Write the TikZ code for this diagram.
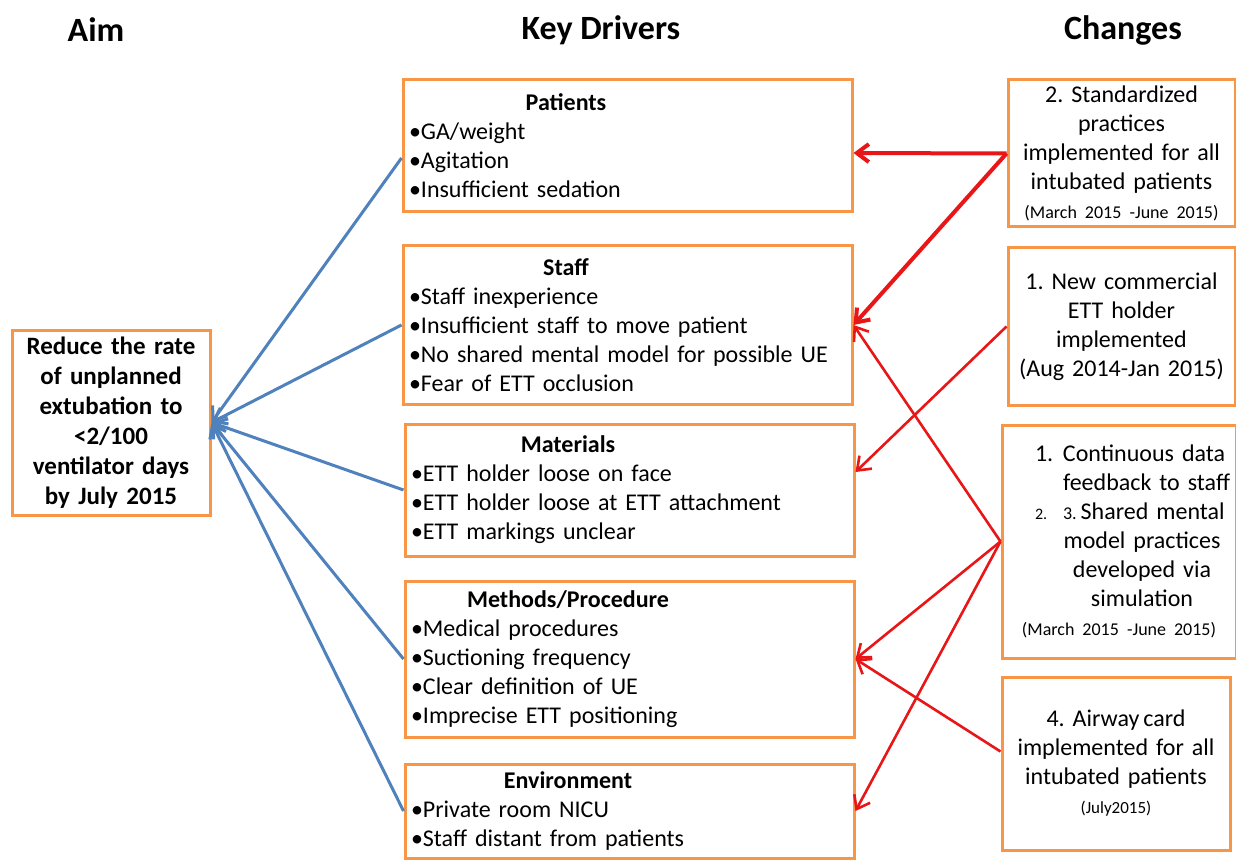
\documentclass[tikz,border=0pt]{standalone}
\usepackage{fontspec}
\setmainfont{Carlito}
\frenchspacing
\usetikzlibrary{arrows.meta}
\definecolor{boxorange}{RGB}{247,150,70}
\definecolor{aimblue}{RGB}{79,129,189}
\definecolor{changered}{RGB}{232,22,22}
\tikzset{
  box/.style={draw=boxorange, line width=1.5pt, inner xsep=3pt, inner ysep=0pt,
    font=\fontsize{12}{14.5}\selectfont},
  driver/.style={box, text width=218.5pt, align=left},
  change/.style={box, inner xsep=2pt, text width=105pt, align=center},
  head/.style={font=\fontsize{17}{20}\selectfont\bfseries},
  barb/.tip={Straight Barb[length=6pt,width=9pt]}
}
\begin{document}
\begin{tikzpicture}[x=0.5pt,y=-0.5pt]
      \useasboundingbox (0,0) rectangle (1236,861);
      % column heads
      \node[head] (aimhead) at (96,30) {Aim};
      \node[head] (drivhead) at (601,30) {Key Drivers};
      \node[head] (changehead) at (1123,30) {Changes};
      % aim
      \node[box, font=\fontsize{12.5}{15}\selectfont\bfseries, align=center,
        text width=93pt, minimum height=92.5pt] (aim) at (111,422.5)
        {Reduce the rate\\ of unplanned\\ extubation to\\ <2/100\\ ventilator days\\ by July 2015};
      % key drivers
      \node[driver, minimum height=66pt] (patients) at (627.5,146)
        {\makebox[157pt]{\bfseries Patients}\\ \textbullet GA/weight\\ \textbullet Agitation\\
         \textbullet Insufficient sedation};
      \node[driver, minimum height=79pt] (staff) at (627.5,325)
        {\makebox[157pt]{\bfseries Staff}\\ \textbullet Staff inexperience\\
         \textbullet Insufficient staff to move patient\\
         \textbullet No shared mental model for possible UE\\ \textbullet Fear of ETT occlusion};
      \node[driver, minimum height=66pt] (materials) at (629.5,490)
        {\makebox[157pt]{\bfseries Materials}\\ \textbullet ETT holder loose on face\\
         \textbullet ETT holder loose at ETT attachment\\ \textbullet ETT markings unclear};
      \node[driver, minimum height=78pt] (methods) at (629.5,659)
        {\makebox[157pt]{\bfseries Methods/Procedure}\\ \textbullet Medical procedures\\
         \textbullet Suctioning frequency\\ \textbullet Clear definition of UE\\
         \textbullet Imprecise ETT positioning};
      \node[driver, minimum height=47pt] (environment) at (629.5,811)
        {\makebox[157pt]{\bfseries Environment}\\ \textbullet Private room NICU\\
         \textbullet Staff distant from patients};
      % changes
      \node[change, minimum width=113.5pt, minimum height=73.5pt] (standard) at (1121.5,153.5)
        {2. Standardized\\ practices\\ implemented for all\\ intubated patients\\
         {\fontsize{9}{11}\selectfont (March 2015 -June 2015)}};
      \node[change, minimum width=113.5pt, minimum height=78.5pt] (holder) at (1121.5,326.5)
        {1. New commercial\\ ETT holder\\ implemented\\ (Aug 2014-Jan 2015)};
      \node[change, minimum width=117pt, minimum height=116.5pt] (feedback) at (1119,541.5)
        {\makebox[84pt][l]{\makebox[14pt][l]{1.}Continuous data}\\
         \makebox[84pt][l]{\hspace{14pt}feedback to staff}\\
         \makebox[84pt][l]{\makebox[14pt][l]{\fontsize{8}{9}\selectfont 2.}{\fontsize{9}{10}\selectfont 3.}\,Shared mental}\\
         \hspace*{23pt}model practices\\ \hspace*{23pt}developed via\\ \hspace*{23pt}simulation\\
         {\fontsize{9}{11}\selectfont (March 2015 -June 2015)}};
      \node[change, minimum width=114pt, minimum height=86.5pt] (airway) at (1116,763.5)
        {4. Airway\,card\\ implemented for all\\ intubated patients\\
         {\fontsize{8.5}{10}\selectfont (July2015)}};
      \begin{scope}[aimblue, line width=1.5pt, -{barb}]
        \draw ([yshift=-6pt]patients.west) to (aim.east);
        \draw (staff.west) to (aim.east);
        \draw (materials.west) to (aim.east);
        \draw (methods.west) to (aim.east);
        \draw (environment.west) to (aim.east);
      \end{scope}
      \begin{scope}[changered, line width=1.3pt, -{barb}]
        \draw[line width=2pt] (standard.west) to ([yshift=-3.5pt]patients.east);
        \draw[line width=2pt] (standard.west) to (staff.east);
        \draw (holder.west) to ([yshift=9pt]materials.east);
        \draw (feedback.west) to (staff.east);
        \draw (feedback.west) to (methods.east);
        \draw (feedback.west) to (environment.east);
        \draw ([yshift=6pt]airway.west) to (methods.east);
      \end{scope}
    \end{tikzpicture}
\end{document}
